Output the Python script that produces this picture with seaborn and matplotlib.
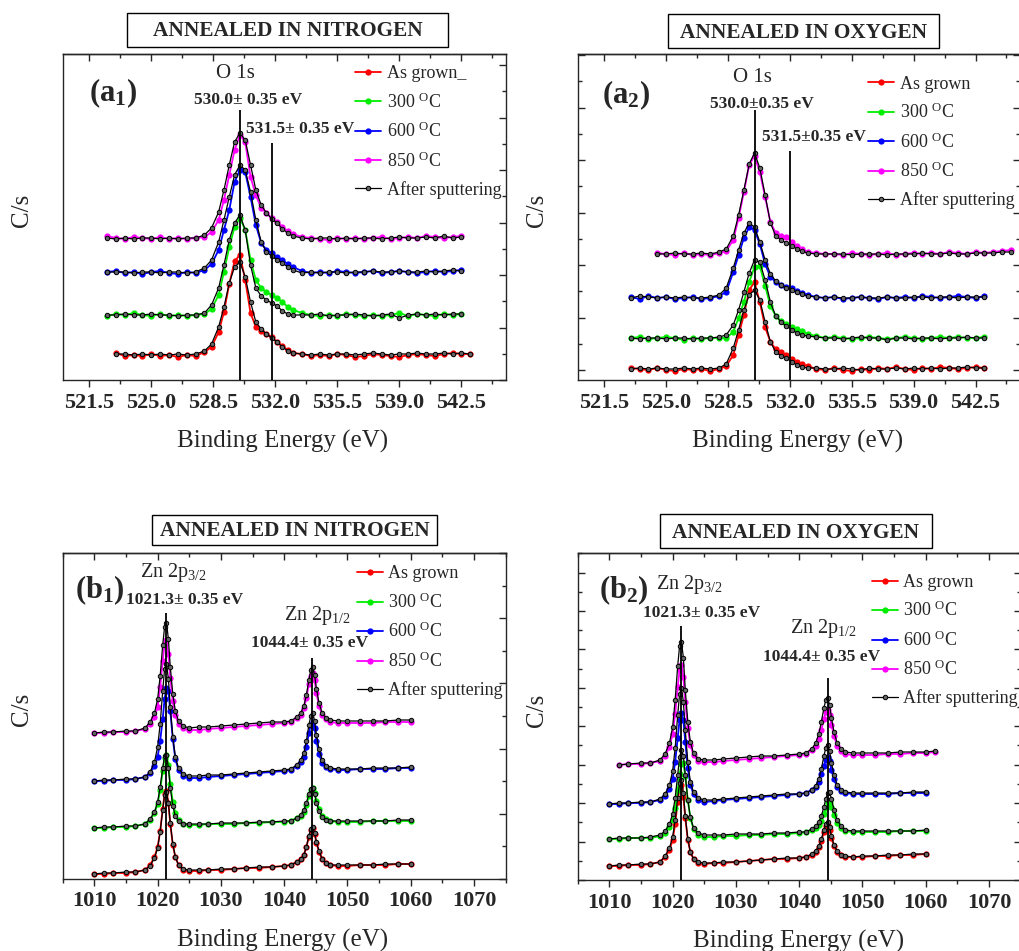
import numpy as np
import matplotlib
matplotlib.use("Agg")
import matplotlib.pyplot as plt
import seaborn as sns
from matplotlib.ticker import MultipleLocator, FormatStrFormatter
from matplotlib.patches import Rectangle

nan = np.nan

# %% O 1s, annealed in nitrogen (a1)
a1_energy = [522.5, 523.0, 523.5, 524.0, 524.5, 525.0, 525.5, 526.0, 526.5, 527.0, 527.5, 528.0,
             528.4, 528.8, 529.1, 529.4, 529.7, 530.0, 530.3, 530.6, 530.9, 531.2, 531.5, 531.8,
             532.1, 532.4, 532.7, 533.0, 533.5, 534.0, 534.5, 535.0, 535.5, 536.0, 536.5, 537.0,
             537.5, 538.0, 538.5, 539.0, 539.5, 540.0, 540.5, 541.0, 541.5, 542.0, 542.5, 543.0]
a1_grown = [nan, 27, 24, 25, 24, 26, 24, 25, 23, 25, 24, 28,
            33, 48, 68, 96, 119, 125, 100, 67, 53, 49, 46, 43, 38, 34, 30, 27,
            26, 24, 25, 24, 26, 25, 23, 24, 26, 25, 24, 23, 25, 26, 25, 24, 26, 27, 26, 26]
a1_grown_sp = [nan, 26, 26, 25, 26, 25, 26, 25, 26, 25, 26, 29,
               36, 53, 73, 97, 113, 118, 103, 78, 58, 51, 46, 42, 38, 33, 29, 27,
               26, 25, 26, 25, 26, 26, 25, 26, 27, 26, 25, 26, 26, 27, 26, 26, 27, 26, 27, 26]
a1_300 = [64, 66, 65, 67, 65, 64, 66, 64, 65, 64, 65, 66,
          71, 85, 108, 133, 153, 162, 150, 120, 100, 92, 88, 85, 82, 78, 73, 70,
          67, 65, 64, 65, 64, 66, 65, 64, 65, 64, 65, 67, 64, 66, 65, 64, 66, 65, 66, nan]
a1_300_sp = [65, 65, 66, 65, 65, 66, 65, 65, 64, 65, 65, 67,
             75, 92, 115, 140, 157, 165, 150, 115, 92, 84, 80, 77, 74, 69, 66, 65,
             65, 65, 66, 64, 65, 65, 66, 65, 64, 65, 66, 62, 65, 66, 65, 66, 65, 66, 66, nan]
a1_600 = [108, 109, 107, 108, 106, 108, 109, 107, 106, 108, 107, 110,
          116, 130, 150, 170, 198, 210, 208, 183, 155, 137, 130, 127, 123, 120, 116, 113,
          109, 107, 108, 107, 109, 108, 107, 108, 109, 107, 108, 109, 108, 107, 108, 109, 108, 109, 110, nan]
a1_600_sp = [108, 108, 108, 107, 108, 108, 107, 108, 108, 107, 108, 112,
             120, 138, 160, 183, 205, 215, 210, 188, 160, 138, 128, 124, 120, 117, 113, 110,
             107, 108, 107, 108, 108, 107, 108, 108, 109, 108, 108, 109, 108, 108, 109, 108, 109, 110, 109, nan]
a1_850 = [144, 142, 141, 143, 142, 141, 143, 141, 142, 141, 142, 143,
          148, 160, 180, 205, 230, 245, 238, 203, 185, 172, 167, 162, 158, 153, 149, 146,
          143, 142, 141, 140, 142, 141, 142, 141, 142, 143, 141, 142, 143, 142, 144, 143, 142, 143, 144, nan]
a1_850_sp = [142, 141, 142, 141, 142, 142, 141, 142, 141, 142, 142, 145,
             152, 168, 190, 215, 238, 247, 240, 215, 190, 175, 167, 161, 157, 151, 147, 144,
             142, 141, 142, 142, 141, 142, 141, 142, 142, 141, 142, 143, 142, 142, 143, 142, 144, 142, 143, nan]

# %% O 1s, annealed in oxygen (a2)
a2_energy = [523.0, 523.5, 524.0, 524.5, 525.0, 525.5, 526.0, 526.5, 527.0, 527.5, 528.0,
             528.4, 528.8, 529.1, 529.4, 529.7, 530.0, 530.3, 530.6, 530.9, 531.2, 531.5, 531.8,
             532.1, 532.4, 532.7, 533.0, 533.5, 534.0, 534.5, 535.0, 535.5, 536.0, 536.5, 537.0,
             537.5, 538.0, 538.5, 539.0, 539.5, 540.0, 540.5, 541.0, 541.5, 542.0, 542.5, 543.0,
             543.5, 544.0, 544.5]
a2_grown = [2, 1, 0, 2, 0, -1, 1, 0, 1, -1, 1,
            4, 15, 35, 55, 80, 88, 68, 43, 28, 21, 18, 15, 11, 8, 6, 4,
            1, 0, 2, 0, -1, 1, 0, 2, 1, 3, 1, 0, 2, 1, 3, 2, 1, 2, 3, 2, nan, nan, nan]
a2_grown_sp = [1, 2, 1, 2, 1, 1, 2, 1, 2, 1, 2,
               6, 22, 40, 60, 75, 80, 70, 48, 28, 18, 14, 12, 8, 5, 3, 2,
               2, 1, 1, 2, 1, 0, 2, 1, 1, 2, 1, 2, 1, 2, 1, 2, 2, 3, 2, 2, nan, nan, nan]
a2_300 = [32, 33, 31, 32, 33, 32, 30, 32, 31, 32, 32,
          32, 38, 52, 68, 88, 103, 104, 84, 64, 54, 49, 46, 43, 41, 39, 36,
          34, 32, 33, 32, 31, 32, 33, 32, 31, 32, 33, 32, 31, 32, 33, 32, 33, 32, 32, 33, nan, nan, nan]
a2_300_sp = [32, 31, 32, 32, 31, 32, 32, 31, 32, 32, 33,
             35, 45, 60, 78, 97, 110, 108, 90, 68, 54, 48, 44, 40, 37, 35, 34,
             33, 32, 32, 31, 32, 33, 32, 32, 30, 32, 32, 31, 32, 32, 31, 32, 32, 33, 32, 32, nan, nan, nan]
a2_600 = [73, 71, 74, 72, 73, 71, 72, 73, 71, 72, 74,
          78, 98, 115, 132, 143, 140, 126, 106, 93, 88, 85, 83, 82, 79, 77, 75,
          73, 72, 73, 71, 72, 73, 72, 71, 73, 72, 73, 72, 74, 73, 72, 73, 74, 73, 72, 74, nan, nan, nan]
a2_600_sp = [72, 74, 73, 72, 73, 72, 73, 72, 72, 73, 75,
             82, 102, 120, 137, 147, 143, 128, 110, 96, 89, 85, 82, 80, 78, 76, 74,
             73, 72, 73, 72, 72, 73, 72, 72, 73, 72, 72, 73, 73, 72, 73, 73, 72, 73, 73, 73, nan, nan, nan]
a2_850 = [nan, nan, nan, 117, 116, 115, 117, 115, 116, 115, 117,
          119, 130, 152, 178, 205, 214, 198, 173, 148, 137, 134, 133, 128, 124, 121, 118,
          117, 116, 116, 115, 117, 116, 115, 116, 117, 115, 116, 117, 116, 117, 116, 118, 117, 116, 118, 117,
          118, 119, 120]
a2_850_sp = [nan, nan, nan, 116, 116, 117, 116, 116, 117, 116, 118,
             121, 134, 155, 180, 206, 217, 202, 175, 147, 134, 130, 127, 124, 121, 119, 117,
             116, 116, 116, 116, 115, 116, 116, 116, 115, 116, 116, 116, 117, 116, 116, 117, 116, 116, 117, 117,
             117, 118, 118]

# %% Zn 2p (b1: nitrogen, b2: oxygen)
b_energy = [1010.0, 1011.5, 1013.0, 1015.0, 1016.5, 1018.0, 1018.8, 1019.5, 1020.0, 1020.4,
            1020.8, 1021.1, 1021.4, 1021.7, 1022.0, 1022.4, 1022.8, 1023.3, 1024.0, 1025.0,
            1026.5, 1028.0, 1030.0, 1032.0, 1034.0, 1036.0, 1038.0, 1040.0, 1041.0, 1042.0,
            1042.6, 1043.1, 1043.5, 1043.9, 1044.2, 1044.5, 1044.8, 1045.1, 1045.5, 1046.0,
            1046.6, 1047.3, 1048.5, 1050.0, 1052.0, 1054.0, 1056.0, 1058.0, 1060.0, 1061.5]
b1_grown = [5, 5, 6, 6, 7, 9, 14, 22, 32, 48, 70, 85, 88, 76, 55, 34, 22, 14, 9, 8,
            8, 9, 9, 10, 11, 11, 12, 13, 14, 17, 20, 24, 32, 42, 49, 51, 45, 36, 27, 20,
            16, 14, 13, 13, 14, 14, 14, 15, 15, nan]
b1_grown_sp = [5, 6, 6, 7, 7, 9, 13, 21, 31, 47, 69, 84, 87, 76, 56, 35, 22, 14, 10, 9,
               9, 9, 10, 10, 11, 12, 12, 13, 14, 17, 20, 24, 32, 43, 50, 52, 46, 37, 28, 20,
               16, 14, 14, 14, 14, 14, 15, 15, 15, nan]
b1_300 = [51, 51, 52, 52, 53, 55, 59, 66, 75, 89, 108, 121, 124, 114, 95, 77, 66, 59, 55, 54,
          54, 55, 55, 55, 56, 56, 57, 57, 58, 61, 63, 67, 74, 83, 89, 91, 86, 78, 70, 63,
          60, 58, 57, 57, 57, 58, 58, 58, 58, nan]
b1_300_sp = [51, 52, 52, 53, 53, 55, 60, 67, 77, 92, 111, 123, 124, 111, 91, 73, 63, 58, 55, 55,
             55, 55, 56, 56, 56, 57, 57, 58, 58, 61, 64, 69, 76, 85, 90, 91, 85, 76, 68, 62,
             59, 58, 58, 58, 58, 58, 58, 59, 59, nan]
b1_600 = [98, 98, 99, 99, 100, 102, 106, 113, 122, 138, 160, 180, 191, 188, 168, 140, 120, 109, 103, 101,
          101, 102, 103, 104, 105, 106, 107, 108, 109, 113, 117, 122, 132, 146, 154, 157, 151, 138, 125, 116,
          112, 110, 109, 109, 110, 110, 110, 111, 111, nan]
b1_600_sp = [98, 99, 99, 100, 100, 102, 107, 117, 132, 155, 188, 210, 215, 200, 172, 142, 122, 111, 105, 103,
             103, 104, 104, 105, 106, 107, 108, 109, 110, 114, 119, 126, 138, 154, 163, 166, 158, 144, 130, 119,
             113, 111, 110, 110, 110, 111, 111, 111, 112, nan]
b1_850 = [146, 146, 147, 147, 148, 150, 155, 162, 172, 192, 218, 235, 239, 225, 201, 178, 164, 155, 151, 149,
          149, 150, 151, 152, 153, 154, 155, 156, 157, 161, 164, 171, 181, 195, 203, 206, 199, 186, 173, 164,
          160, 157, 156, 156, 156, 156, 157, 157, 157, nan]
b1_850_sp = [146, 147, 147, 148, 148, 151, 157, 166, 180, 203, 234, 252, 256, 240, 212, 185, 168, 158, 153, 151,
             152, 152, 153, 154, 155, 156, 157, 157, 158, 162, 166, 173, 184, 199, 209, 212, 204, 190, 176, 166,
             161, 159, 158, 158, 158, 158, 158, 159, 159, nan]

b2_grown = [14, 14, 15, 15, 16, 18, 23, 30, 40, 56, 78, 92, 95, 83, 62, 40, 28, 21, 17, 16,
            17, 17, 18, 19, 20, 21, 21, 22, 23, 25, 28, 33, 39, 48, 54, 55, 50, 42, 34, 28,
            25, 23, 23, 23, 24, 24, 25, 25, 26, nan]
b2_grown_sp = [14, 15, 15, 16, 16, 18, 24, 32, 43, 60, 82, 97, 100, 87, 64, 41, 28, 21, 18, 17,
               17, 18, 18, 19, 20, 21, 22, 22, 23, 26, 29, 34, 41, 50, 56, 58, 53, 44, 35, 29,
               25, 24, 23, 24, 24, 25, 25, 26, 26, nan]
b2_300 = [41, 41, 42, 42, 42, 44, 47, 53, 60, 72, 90, 106, 116, 117, 104, 80, 62, 51, 45, 43,
          43, 44, 44, 45, 45, 46, 46, 47, 48, 50, 52, 55, 59, 66, 72, 77, 78, 73, 65, 57,
          52, 49, 48, 48, 48, 48, 49, 49, 49, nan]
b2_300_sp = [41, 42, 42, 42, 43, 45, 49, 56, 66, 82, 105, 123, 130, 124, 105, 80, 63, 52, 47, 45,
             45, 45, 46, 46, 46, 47, 47, 48, 48, 51, 54, 58, 64, 73, 81, 87, 88, 81, 70, 60,
             54, 50, 49, 49, 49, 49, 49, 49, 50, nan]
b2_600 = [76, 76, 77, 77, 78, 80, 84, 91, 101, 118, 142, 160, 167, 160, 138, 112, 95, 86, 80, 78,
          79, 80, 81, 82, 83, 84, 85, 86, 87, 90, 93, 98, 106, 114, 120, 123, 119, 110, 101, 93,
          89, 87, 86, 86, 86, 86, 87, 87, 87, nan]
b2_600_sp = [76, 77, 77, 78, 78, 81, 86, 95, 109, 132, 165, 186, 192, 178, 150, 118, 98, 88, 82, 80,
             80, 81, 82, 83, 84, 85, 86, 86, 87, 90, 94, 101, 111, 124, 132, 135, 129, 117, 105, 95,
             90, 88, 87, 87, 87, 87, 87, 88, 88, nan]
b2_850 = [nan, 115, 116, 116, 117, 119, 124, 133, 146, 166, 193, 210, 215, 203, 178, 152, 135, 125, 119, 118,
          118, 119, 120, 121, 122, 123, 124, 125, 126, 130, 134, 141, 150, 161, 168, 170, 165, 155, 144, 134,
          129, 126, 125, 125, 125, 126, 126, 127, 127, 128]
b2_850_sp = [nan, 115, 116, 117, 117, 120, 126, 137, 153, 180, 214, 234, 238, 222, 190, 158, 138, 127, 121, 120,
             120, 121, 122, 123, 124, 124, 125, 126, 127, 131, 137, 146, 158, 172, 180, 182, 175, 162, 148, 137,
             131, 128, 127, 127, 127, 127, 128, 128, 128, 129]

# reference peak positions drawn as vertical lines
a1_peaks = [530.0, 531.8]
a2_peaks = [530.0, 532.0]
b1_peaks = [1021.3, 1044.4]
b2_peaks = [1021.4, 1044.5]

labels_a1 = ["As grown_", "300 $^{\\mathrm{O}}$C", "600 $^{\\mathrm{O}}$C", "850 $^{\\mathrm{O}}$C", "After sputtering"]
labels_std = ["As grown", "300 $^{\\mathrm{O}}$C", "600 $^{\\mathrm{O}}$C", "850 $^{\\mathrm{O}}$C", "After sputtering"]
colors = ["#ff0000", "#00ee00", "#0000ff", "#ff00ff"]

# %%
sns.set_style("ticks")
plt.rcParams["font.family"] = ["Liberation Serif", "DejaVu Serif"]
plt.rcParams["mathtext.fontset"] = "custom"
plt.rcParams["mathtext.rm"] = "Liberation Serif"
plt.rcParams["mathtext.it"] = "Liberation Serif:italic"
plt.rcParams["mathtext.bf"] = "Liberation Serif:bold"
plt.rcParams["axes.linewidth"] = 1.0

W, H = 1019, 951
fig = plt.figure(figsize=(W / 100, H / 100), dpi=100)


def px_axes(x0, y0, w, h):
    # pixel box (top-left origin) -> figure fraction
    return fig.add_axes([x0 / W, 1 - (y0 + h) / H, w / W, h / H])


def title_box(x0, y0, x1, y1, text):
    fig.add_artist(Rectangle((x0 / W, 1 - y1 / H), (x1 - x0) / W, (y1 - y0) / H,
                             transform=fig.transFigure, fill=False, edgecolor="black", linewidth=1.0))
    fig.text((x0 + x1) / 2 / W, 1 - (y0 + y1 + 3) / 2 / H, text, ha="center", va="center",
             fontsize=15.3, fontweight="bold")


def spectra(ax, energy, measured, sputtered, labels):
    for vals, col, lab in zip(measured, colors, labels[:4]):
        sns.lineplot(x=energy, y=vals, color=col, marker="o", markersize=4.5, markeredgewidth=0,
                     linewidth=1.3, estimator=None, sort=False, ax=ax, label=lab, zorder=2)
    for i, vals in enumerate(sputtered):
        sns.lineplot(x=energy, y=vals, color="black", marker="o", markersize=3.2, markeredgewidth=0.7,
                     markerfacecolor="#666666", markeredgecolor="black", linewidth=0.9,
                     estimator=None, sort=False, ax=ax, label=labels[4] if i == 0 else "_nolegend_", zorder=3)


def style_axes(ax, xlim, ylim, xstep, fmt, ystep, yminor, yside, xlab_x):
    ax.set_xlim(*xlim)
    ax.set_ylim(*ylim)
    ax.xaxis.set_major_locator(MultipleLocator(xstep))
    ax.xaxis.set_minor_locator(MultipleLocator(xstep / 2))
    ax.xaxis.set_major_formatter(FormatStrFormatter(fmt))
    ax.tick_params(axis="x", which="both", direction="out", top=False, labelsize=16, pad=4)
    ax.tick_params(axis="x", which="major", length=5, width=1)
    ax.tick_params(axis="x", which="minor", length=3, width=1)
    for lab in ax.get_xticklabels():
        lab.set_fontweight("bold")
    top = ax.secondary_xaxis("top")
    top.xaxis.set_major_locator(MultipleLocator(xstep))
    top.xaxis.set_minor_locator(MultipleLocator(xstep / 2))
    top.tick_params(axis="x", which="both", direction="in", labeltop=False)
    top.tick_params(axis="x", which="major", length=5, width=1)
    top.tick_params(axis="x", which="minor", length=3, width=1)
    ax.yaxis.set_major_locator(MultipleLocator(ystep))
    ax.yaxis.set_minor_locator(MultipleLocator(yminor))
    ax.tick_params(axis="y", which="both", direction="in", labelleft=False, labelright=False,
                   left=(yside == "left"), right=True)
    ax.tick_params(axis="y", which="major", length=5, width=1)
    ax.tick_params(axis="y", which="minor", length=3, width=1)
    ax.set_xlabel("Binding Energy (eV)", fontsize=18)
    ax.set_ylabel("C/s", fontsize=18)
    ax.xaxis.set_label_coords(xlab_x, -0.152)
    ax.yaxis.set_label_coords(-0.068, 0.52)


def finish_legend(ax, x, y):
    handles, labs = ax.get_legend_handles_labels()
    ax.legend(handles, labs, loc="upper left", bbox_to_anchor=(x, y), frameon=False, fontsize=13,
              handlelength=1.45, handletextpad=0.3, labelspacing=0.56, borderpad=0, borderaxespad=0)


# ---- (a1) ----
ax = px_axes(62.7, 54, 443, 326)
spectra(ax, a1_energy, [a1_grown, a1_300, a1_600, a1_850],
        [a1_grown_sp, a1_300_sp, a1_600_sp, a1_850_sp], labels_a1)
ax.vlines(a1_peaks, 0, [270, 237], color="black", linewidth=1.3, zorder=4)
style_axes(ax, (520.0, 545.0), (0, 326), 3.5, "%.1f", 52.5, 26.25, "right", 0.497)
finish_legend(ax, 0.66, 0.966)
ax.text(521.5, 287, r"$\mathbf{(a}_{\mathbf{1}}\mathbf{)}$", fontsize=22, va="center", ha="left")
ax.text(529.72, 306, "O 1s", fontsize=15, ha="center", va="center")
ax.text(530.45, 280, "530.0\u00b1 0.35 eV", fontsize=12.5, fontweight="bold", ha="center", va="center")
ax.text(530.37, 251, "531.5\u00b1 0.35 eV", fontsize=12.5, fontweight="bold", ha="left", va="center")

# ---- (a2) ----
ax = px_axes(577.7, 54, 442, 326)
spectra(ax, a2_energy, [a2_grown, a2_300, a2_600, a2_850],
        [a2_grown_sp, a2_300_sp, a2_600_sp, a2_850_sp], labels_std)
ax.vlines(a2_peaks, -10, [260, 219], color="black", linewidth=1.3, zorder=4)
style_axes(ax, (520.0, 545.0), (-10, 316), 3.5, "%.1f", 52.5, 26.25, "left", 0.498)
finish_legend(ax, 0.657, 0.934)
ax.text(521.37, 275, r"$\mathbf{(a}_{\mathbf{2}}\mathbf{)}$", fontsize=22, va="center", ha="left")
ax.text(529.88, 293, "O 1s", fontsize=15, ha="center", va="center")
ax.text(530.39, 266, "530.0\u00b10.35 eV", fontsize=12.5, fontweight="bold", ha="center", va="center")
ax.text(530.41, 233, "531.5\u00b10.35 eV", fontsize=12.5, fontweight="bold", ha="left", va="center")

# ---- (b1) ----
ax = px_axes(62.7, 552.7, 443, 326.3)
spectra(ax, b_energy, [b1_grown, b1_300, b1_600, b1_850],
        [b1_grown_sp, b1_300_sp, b1_600_sp, b1_850_sp], labels_std)
ax.vlines(b1_peaks, 0, [266, 221], color="black", linewidth=1.3, zorder=4)
style_axes(ax, (1005, 1075), (0, 326.3), 10, "%d", 65.2, 32.6, "right", 0.497)
finish_legend(ax, 0.664, 0.961)
ax.text(1007.0, 289, r"$\mathbf{(b}_{\mathbf{1}}\mathbf{)}$", fontsize=22, va="center", ha="left")
ax.text(1022.55, 307, "Zn 2p$_{3/2}$", fontsize=14.5, ha="center", va="center")
ax.text(1024.3, 279, "1021.3\u00b1 0.35 eV", fontsize=12.5, fontweight="bold", ha="center", va="center")
ax.text(1045.2, 264, "Zn 2p$_{1/2}$", fontsize=14.5, ha="center", va="center")
ax.text(1043.95, 236, "1044.4\u00b1 0.35 eV", fontsize=12.5, fontweight="bold", ha="center", va="center")

# ---- (b2) ----
ax = px_axes(577.7, 553, 443, 327)
spectra(ax, b_energy, [b2_grown, b2_300, b2_600, b2_850],
        [b2_grown_sp, b2_300_sp, b2_600_sp, b2_850_sp], labels_std)
ax.vlines(b2_peaks, 0, [254, 202], color="black", linewidth=1.3, zorder=4)
style_axes(ax, (1005, 1075), (0, 327), 10, "%d", 38.43, 19.215, "left", 0.498)
finish_legend(ax, 0.664, 0.936)
ax.text(1008.3, 290, r"$\mathbf{(b}_{\mathbf{2}}\mathbf{)}$", fontsize=22, va="center", ha="left")
ax.text(1022.7, 295, "Zn 2p$_{3/2}$", fontsize=14.5, ha="center", va="center")
ax.text(1024.6, 267, "1021.3\u00b1 0.35 eV", fontsize=12.5, fontweight="bold", ha="center", va="center")
ax.text(1043.87, 252, "Zn 2p$_{1/2}$", fontsize=14.5, ha="center", va="center")
ax.text(1043.55, 223, "1044.4\u00b1 0.35 eV", fontsize=12.5, fontweight="bold", ha="center", va="center")

# title boxes
title_box(127, 13, 448, 47, "ANNEALED IN NITROGEN")
title_box(668, 14, 939, 48, "ANNEALED IN OXYGEN")
title_box(152, 515, 437, 545, "ANNEALED IN NITROGEN")
title_box(660, 514, 932, 548, "ANNEALED IN OXYGEN")

fig.savefig("out.png", dpi=100)
